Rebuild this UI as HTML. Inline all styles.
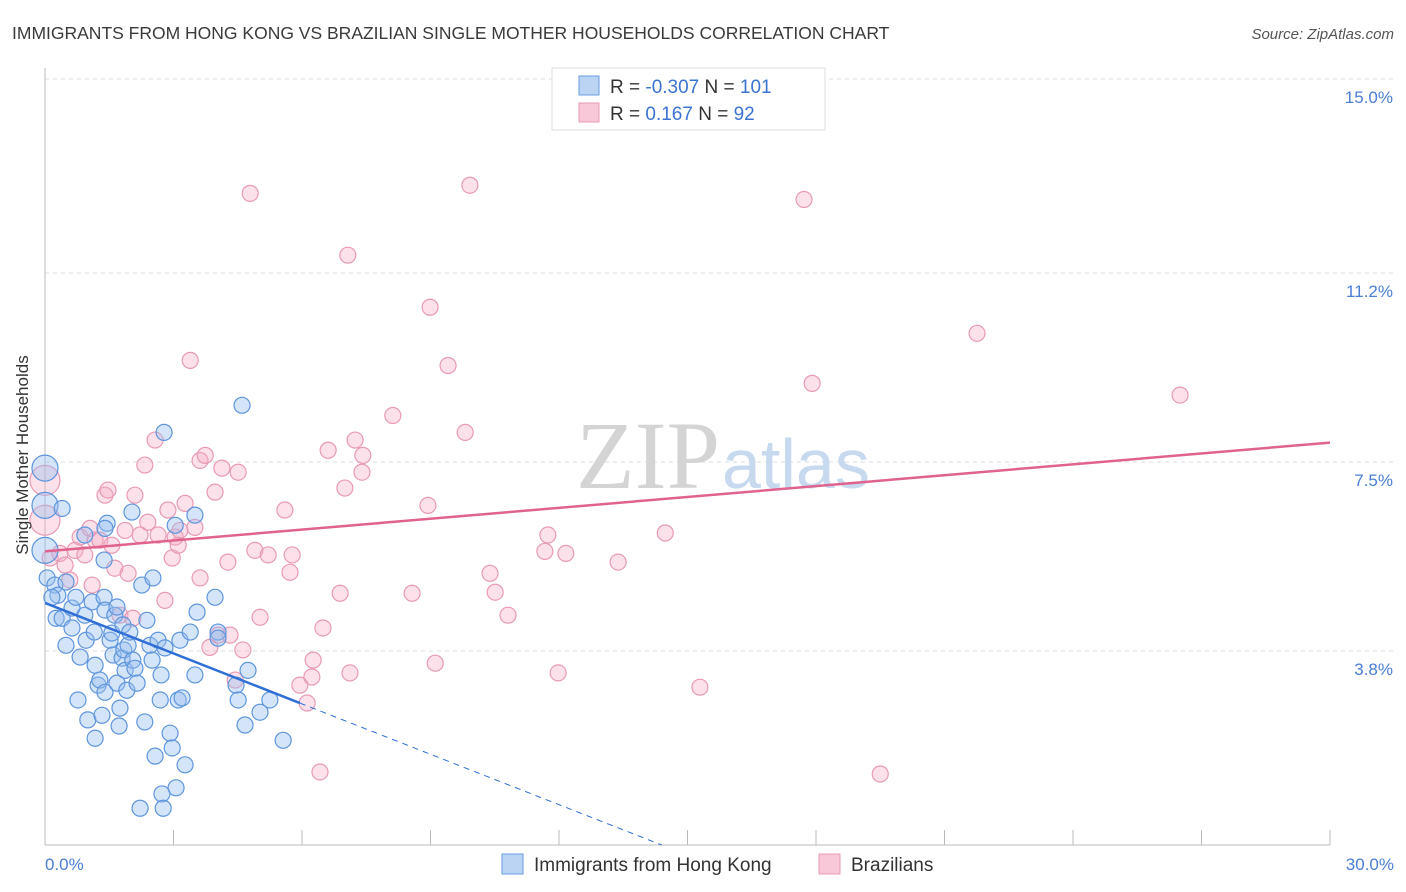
<!DOCTYPE html>
<html><head><meta charset="utf-8"><style>
body{margin:0;background:#fff;font-family:"Liberation Sans",sans-serif;}
svg{display:block}
</style></head><body>
<svg id="chart" width="1406" height="892">
<text x="12" y="39" font-size="17.5" fill="#3a3a3a">IMMIGRANTS FROM HONG KONG VS BRAZILIAN SINGLE MOTHER HOUSEHOLDS CORRELATION CHART</text>
<text x="1394" y="39" font-size="15" fill="#555" font-style="italic" text-anchor="end">Source: ZipAtlas.com</text>
<g id="grid"></g>
<text x="720" y="488" font-size="96" fill="#d4d4d4" text-anchor="end" font-family="Liberation Serif,serif">ZIP</text>
<text x="722" y="488" font-size="70" fill="#c6d9ef">atlas</text>
<g id="pts"></g>
<g id="lines"></g>
<text x="28" y="455" font-size="17" fill="#333" text-anchor="middle" transform="rotate(-90 28 455)">Single Mother Households</text>
<text x="45" y="870" font-size="17" fill="#4a7fd4">0.0%</text>
<text x="1394" y="870" font-size="17" fill="#4a7fd4" text-anchor="end">30.0%</text>
<g>
<rect x="552" y="68" width="273" height="62" fill="#fff" stroke="#ddd"/>
<rect x="579" y="76" width="20" height="19" fill="#bcd4f4" stroke="#6a9ee0"/>
<rect x="579" y="103" width="20" height="19" fill="#f9c8d8" stroke="#e89ab5"/>
<text x="610" y="93" font-size="19" fill="#333">R = <tspan fill="#3a74d0">-0.307</tspan>   N = <tspan fill="#3a74d0">101</tspan></text>
<text x="610" y="120" font-size="19" fill="#333">R =    <tspan fill="#3a74d0">0.167</tspan>   N =   <tspan fill="#3a74d0">92</tspan></text>
</g>
<g>
<rect x="502" y="854" width="21" height="20" fill="#bcd4f4" stroke="#6a9ee0"/>
<text x="534" y="871" font-size="19" fill="#333">Immigrants from Hong Kong</text>
<rect x="819" y="854" width="21" height="20" fill="#f9c8d8" stroke="#e89ab5"/>
<text x="851" y="871" font-size="19" fill="#333">Brazilians</text>
</g>
</svg>
<script>
const yTicks=[15.0,11.2,7.5,3.8];
const yTickLabels=["15.0%","11.2%","7.5%","3.8%"];
const xTicks=[0,3,6,9,12,15,18,21,24,27,30];
const blueX=[0,0,0,0.05,0.23,0.40,0.49,0.30,0.16,0.26,0.40,0.49,0.63,0.63,0.72,0.82,0.77,0.93,0.96,1.00,1.10,1.15,1.17,1.17,1.24,1.28,1.33,1.38,1.40,1.40,1.38,1.45,1.52,1.56,1.59,1.63,1.68,1.68,1.73,1.75,1.80,1.82,1.84,1.87,1.91,1.94,1.98,2.03,2.05,2.10,2.15,2.22,2.26,2.33,2.38,2.45,2.50,2.52,2.57,2.64,2.69,2.71,2.73,2.76,2.78,2.80,2.92,2.97,3.04,3.06,3.11,3.15,3.20,3.27,3.39,3.50,3.55,3.50,3.97,4.04,4.04,4.46,4.51,4.60,4.67,4.74,5.02,5.25,5.56,1.40,0.93];
const blueY=[7.38,6.65,5.77,5.23,5.09,6.59,5.15,4.89,4.85,4.44,4.44,3.91,4.64,4.25,4.85,3.68,2.84,4.50,4.01,2.45,4.76,4.17,2.09,3.52,3.13,3.23,2.54,4.85,2.99,4.60,5.58,6.30,4.01,4.15,3.72,4.50,4.66,3.17,2.33,2.68,3.66,4.31,3.82,3.42,3.03,3.91,4.17,6.52,3.62,3.46,3.17,0.72,5.09,2.41,4.40,3.91,3.62,5.23,1.74,4.01,2.84,3.33,1.00,0.72,8.08,3.86,2.19,1.90,6.26,1.12,2.84,4.01,2.88,1.57,4.17,3.33,4.56,6.46,4.85,4.17,4.05,3.13,2.84,8.61,2.35,3.42,2.60,2.84,2.05,6.20,6.07];
const pinkX=[0,0,0.12,0.35,0.47,0.58,0.70,0.82,0.93,1.05,1.10,1.17,1.28,1.40,1.47,1.56,1.63,1.75,1.87,1.94,2.05,2.10,2.22,2.33,2.40,2.57,2.64,2.80,2.87,2.97,3.04,3.11,3.15,3.27,3.39,3.50,3.62,3.62,3.74,3.85,3.97,4.04,4.13,4.27,4.32,4.44,4.51,4.62,4.79,4.90,5.02,5.21,5.60,5.72,5.77,5.95,6.12,6.23,6.26,6.42,6.49,6.61,6.89,7.00,7.12,7.07,7.24,7.40,7.42,8.12,8.57,8.94,8.99,9.11,9.41,9.81,9.92,10.39,10.51,10.81,11.67,11.74,11.98,12.16,13.38,14.48,15.29,17.72,17.91,19.50,21.76,26.50];
const pinkY=[7.14,6.36,5.62,5.71,5.48,5.19,5.77,6.03,5.68,6.20,5.09,5.97,5.97,6.85,6.95,5.87,5.42,4.50,6.16,5.32,4.44,6.85,6.07,7.44,6.32,7.93,6.07,4.79,6.56,5.62,6.03,5.87,6.16,6.69,9.49,6.22,5.23,7.53,7.63,3.87,6.91,4.11,7.38,5.54,4.11,3.23,7.30,3.82,12.76,5.77,4.46,5.68,6.56,5.34,5.68,3.13,2.78,3.29,3.62,1.43,4.25,7.73,4.93,6.99,3.37,11.55,7.93,7.30,7.63,8.41,4.93,6.65,10.53,3.56,9.39,8.08,12.92,5.32,4.95,4.50,5.75,6.07,3.37,5.71,5.54,6.11,3.09,12.64,9.04,1.39,10.02,8.81];
const blueTrend=[[0,4.74],[5.95,2.78]];
const blueTrendExt=[[5.95,2.78],[14.4,0]];
const pinkTrend=[[0,5.75],[30,7.88]];

const NS="http://www.w3.org/2000/svg";
const X=v=>45+v*(1285/30);
const Y=v=>79+(15-v)*(766/15);
function mk(t,a,p){const e=document.createElementNS(NS,t);for(const k in a)e.setAttribute(k,a[k]);p.appendChild(e);return e;}
const grid=document.getElementById('grid');
yTicks.forEach((t,i)=>{
 const l=mk('line',{x1:45,x2:1394,y1:Y(t),y2:Y(t),stroke:'#ddd','stroke-dasharray':'4 4'},grid);
 
 
 const tx=mk('text',{x:1393,y:Y(t)+24,'font-size':17,fill:'#4a7fd4','text-anchor':'end'},grid);
 tx.textContent=yTickLabels[i];
 
 
});
const ax=mk('line',{x1:45,x2:45,y1:68,y2:845,stroke:'#bbb'},grid);


const bx=mk('line',{x1:45,x2:1330,y1:845,y2:845,stroke:'#bbb'},grid);


xTicks.forEach(t=>{
 const l=mk('line',{x1:X(t),x2:X(t),y1:830,y2:845,stroke:'#bbb'},grid);
 
 
});
const pts=document.getElementById('pts');
pinkX.forEach((x,i)=>{
 const c=mk('circle',{cx:X(x),cy:Y(pinkY[i]),r:(x===0?15:8),fill:'rgba(245,170,195,0.35)',stroke:'#e89ab5','stroke-width':1.2},pts);
 
 
});
blueX.forEach((x,i)=>{
 const c=mk('circle',{cx:X(x),cy:Y(blueY[i]),r:(x===0?13:8),fill:'rgba(150,190,240,0.4)',stroke:'#5e95dd','stroke-width':1.2},pts);
 
 
});
const lines=document.getElementById('lines');
const bl=mk('line',{x1:X(blueTrend[0][0]),y1:Y(blueTrend[0][1]),x2:X(blueTrend[1][0]),y2:Y(blueTrend[1][1]),stroke:'#2f6fd6','stroke-width':2.5},lines);


const be=mk('line',{x1:X(blueTrendExt[0][0]),y1:Y(blueTrendExt[0][1]),x2:X(blueTrendExt[1][0]),y2:Y(blueTrendExt[1][1]),stroke:'#2f6fd6','stroke-width':1,'stroke-dasharray':'6 5'},lines);


const pl=mk('line',{x1:X(pinkTrend[0][0]),y1:Y(pinkTrend[0][1]),x2:X(pinkTrend[1][0]),y2:Y(pinkTrend[1][1]),stroke:'#e0628e','stroke-width':2.5},lines);


</script>
</body></html>
